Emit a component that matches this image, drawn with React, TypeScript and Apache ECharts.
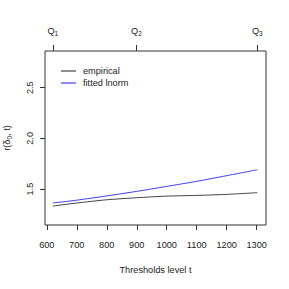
import React, { useEffect, useRef } from "react";
import * as echarts from "echarts";

const thresholds = [620, 700, 800, 900, 1000, 1100, 1200, 1302];
const empirical = [1.332, 1.362, 1.394, 1.414, 1.43, 1.437, 1.447, 1.464];
const fittedLnorm = [1.362, 1.39, 1.432, 1.477, 1.526, 1.576, 1.632, 1.69];
const xTicks = [600, 700, 800, 900, 1000, 1100, 1200, 1300];
const yTicks = [1.5, 2.0, 2.5];
const quartileTicks = [620, 899, 1302];
const quartileLabels = ["1", "2", "3"];

const TXT = "#222";
const FONT = "Liberation Sans, Arial, sans-serif";

export default function App() {
  const ref = useRef<HTMLDivElement>(null);
  useEffect(() => {
    const chart = echarts.init(ref.current!, null, { renderer: "svg" });
    chart.setOption({
      animation: false,
      backgroundColor: "#fff",
      textStyle: { fontFamily: FONT },
      grid: {
        left: 45,
        right: 23,
        top: 51,
        bottom: 64,
        outerBoundsMode: "none",
        containLabel: false,
        show: true,
        borderColor: "#333",
        borderWidth: 1,
        backgroundColor: "transparent",
      },
      legend: {
        left: 61,
        top: 66,
        padding: 0,
        orient: "vertical",
        itemWidth: 15,
        itemHeight: 1.2,
        itemGap: 2,
        icon: "rect",
        textStyle: { fontSize: 9.2, color: TXT, fontFamily: FONT, lineHeight: 10, padding: [0, 0, 0, 2] },
        data: ["empirical", "fitted lnorm"],
      },
      xAxis: [
        {
          type: "value",
          position: "bottom",
          min: 594,
          max: 1331,
          axisLine: { show: false },
          splitLine: { show: false },
          axisTick: { show: true, customValues: xTicks, length: 5, lineStyle: { color: "#333" } },
          axisLabel: {
            customValues: xTicks,
            margin: 15,
            fontSize: 9.2,
            color: TXT,
            fontFamily: FONT,
            formatter: (v: number) => String(v),
          },
          name: "Thresholds level t",
          nameLocation: "middle",
          nameGap: 40,
          nameTextStyle: { fontSize: 9.2, color: TXT, fontFamily: FONT },
        },
        {
          type: "value",
          position: "top",
          min: 594,
          max: 1331,
          axisLine: { show: false },
          splitLine: { show: false },
          axisTick: { show: true, customValues: quartileTicks, length: 6, lineStyle: { color: "#333" } },
          axisLabel: {
            customValues: quartileTicks,
            margin: 14,
            color: TXT,
            fontFamily: FONT,
            formatter: (v: number) => {
              const i = quartileTicks.indexOf(v);
              return `{q|Q}{s|${quartileLabels[i >= 0 ? i : 0]}}`;
            },
            rich: {
              q: { fontSize: 9.2, color: TXT, fontFamily: FONT },
              s: { fontSize: 6.5, color: TXT, fontFamily: FONT, padding: [6, 0, 0, 0] },
            },
          },
        },
      ],
      yAxis: {
        type: "value",
        min: 1.145,
        max: 2.862,
        axisLine: { show: false },
        splitLine: { show: false },
        axisTick: { show: true, customValues: yTicks, length: 5, lineStyle: { color: "#333" } },
        axisLabel: {
          customValues: yTicks,
          rotate: 90,
          margin: 11,
          fontSize: 9.2,
          color: TXT,
          fontFamily: FONT,
          formatter: (v: number) => v.toFixed(1),
        },
        name: "r(δ{s|0}, t)",
        nameLocation: "middle",
        nameGap: 32,
        nameTextStyle: {
          fontSize: 9.2,
          color: TXT,
          fontFamily: FONT,
          rich: {
            s: { fontSize: 6.5, color: TXT, fontFamily: FONT, padding: [5, 0, 0, 0] },
          },
        },
      },
      series: [
        {
          name: "empirical",
          type: "line",
          xAxisIndex: 0,
          data: thresholds.map((x, i) => [x, empirical[i]]),
          showSymbol: false,
          symbol: "none",
          smooth: 0.25,
          lineStyle: { color: "#444", width: 1 },
          itemStyle: { color: "#444" },
        },
        {
          name: "fitted lnorm",
          type: "line",
          xAxisIndex: 0,
          data: thresholds.map((x, i) => [x, fittedLnorm[i]]),
          showSymbol: false,
          symbol: "none",
          smooth: 0.25,
          lineStyle: { color: "#3d3dff", width: 1 },
          itemStyle: { color: "#3d3dff" },
        },
      ],
    });
    return () => chart.dispose();
  }, []);
  return <div ref={ref} style={{ width: 289, height: 289, position: "absolute", left: 0, top: 0 }} />;
}
